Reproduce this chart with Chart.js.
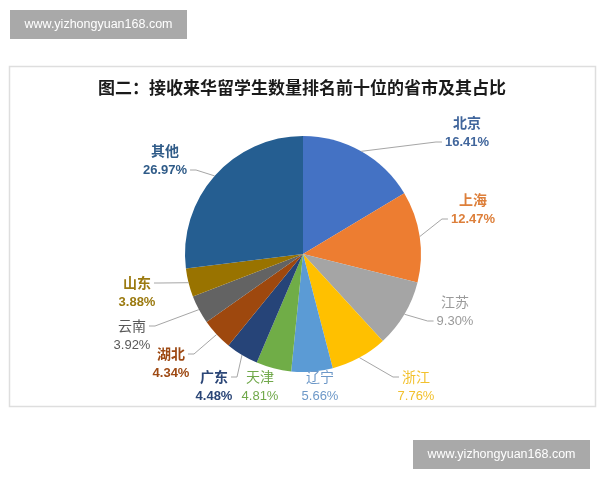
<!DOCTYPE html>
<html lang="zh">
<head>
  <meta charset="UTF-8" />
  <title>接收来华留学生数量排名前十位的省市及其占比</title>
  <script src="https://cdn.jsdelivr.net/npm/chart.js"></script>
  <style>
    html, body { margin: 0; padding: 0; background: #fff; }
    canvas { display: block; }
  </style>
</head>
<body>
  <canvas id="pieChart" width="600" height="480"></canvas>

  <script>
    // 数据
    const provinces = ['北京', '上海', '江苏', '浙江', '辽宁', '天津', '广东', '湖北', '云南', '山东', '其他'];
    const shares = [16.41, 12.47, 9.30, 7.76, 5.66, 4.81, 4.48, 4.34, 3.92, 3.88, 26.97];

    // 样式
    const sliceColors = ['#4472C4', '#ED7D31', '#A5A5A5', '#FFC000', '#5B9BD5', '#70AD47',
                         '#264478', '#9E480E', '#636363', '#997300', '#255E91'];
    const labelColors = ['#41669c', '#dd7f3a', '#9a9a9a', '#f2c12e', '#6d98c8', '#70a84a',
                         '#2b4677', '#9e4a14', '#595959', '#9b7a10', '#2f5b88'];
    const labelBold = [true, true, false, false, false, false, true, true, false, true, true];
    // 标签位置（名称行中心）
    const labelPos = [[467, 123], [473, 200], [455, 302], [416, 377], [320, 377], [260, 377],
                      [214, 377], [171, 354], [132, 326], [137, 283], [165, 151]];

    const titleText = '图二：接收来华留学生数量排名前十位的省市及其占比';
    const watermark = 'www.yizhongyuan168.com';

    const cjk = '"Noto Sans CJK SC", "Noto Sans", sans-serif';
    const latin = '"Liberation Sans", Arial, sans-serif';

    function drawWatermark(ctx, x, y, w, h) {
      ctx.fillStyle = '#a9a9a9';
      ctx.fillRect(x, y, w, h);
      ctx.fillStyle = '#ffffff';
      ctx.font = '12.5px ' + latin;
      ctx.textAlign = 'center';
      ctx.textBaseline = 'middle';
      ctx.fillText(watermark, x + w / 2, y + h / 2);
    }

    const decorPlugin = {
      id: 'decor',
      beforeDraw(chart) {
        const ctx = chart.ctx;
        ctx.save();
        ctx.fillStyle = '#ffffff';
        ctx.fillRect(0, 0, chart.width, chart.height);

        // 外框
        ctx.strokeStyle = '#dedede';
        ctx.lineWidth = 1.5;
        ctx.strokeRect(9.5, 66.5, 586, 340);

        // 标题
        ctx.fillStyle = '#1a1a1a';
        ctx.font = 'bold 17px ' + cjk;
        ctx.textAlign = 'center';
        ctx.textBaseline = 'middle';
        ctx.fillText(titleText, 302, 88);

        drawWatermark(ctx, 10, 10, 177, 29);
        drawWatermark(ctx, 413, 440, 177, 29);
        ctx.restore();
      },
      afterDatasetsDraw(chart) {
        const ctx = chart.ctx;
        const arcs = chart.getDatasetMeta(0).data;
        ctx.save();
        arcs.forEach((arc, i) => {
          const p = arc.getProps(['x', 'y', 'startAngle', 'endAngle', 'outerRadius'], true);
          const mid = (p.startAngle + p.endAngle) / 2;
          const ax = p.x + Math.cos(mid) * p.outerRadius;
          const ay = p.y + Math.sin(mid) * p.outerRadius;

          const [lx, ly] = labelPos[i];
          const nameText = provinces[i];
          const pctText = shares[i].toFixed(2) + '%';
          const weight = labelBold[i] ? 'bold ' : '';
          const nameFont = weight + '14px ' + cjk;
          const pctFont = weight + '13px ' + latin;

          ctx.font = nameFont;
          const nameW = ctx.measureText(nameText).width;
          ctx.font = pctFont;
          const pctW = ctx.measureText(pctText).width;

          // 引导线
          const half = Math.max(nameW, pctW) / 2;
          if (ax < lx - half - 2 || ax > lx + half + 2) {
            const pctY = ly + 19;
            const useName = Math.abs(ay - ly) < Math.abs(ay - pctY);
            const ey = useName ? ly : pctY;
            const w = useName ? nameW : pctW;
            const right = ax < lx;
            const ex = right ? lx - w / 2 - 3 : lx + w / 2 + 3;
            const bx = right ? ex - 6 : ex + 6;
            ctx.strokeStyle = '#a6a6a6';
            ctx.lineWidth = 1;
            ctx.beginPath();
            ctx.moveTo(ax, ay);
            ctx.lineTo(bx, ey);
            ctx.lineTo(ex, ey);
            ctx.stroke();
          }

          ctx.fillStyle = labelColors[i];
          ctx.textAlign = 'center';
          ctx.textBaseline = 'middle';
          ctx.font = nameFont;
          ctx.fillText(nameText, lx, ly);
          ctx.font = pctFont;
          ctx.fillText(pctText, lx, ly + 19);
        });
        ctx.restore();
      }
    };

    new Chart(document.getElementById('pieChart').getContext('2d'), {
      type: 'pie',
      data: {
        labels: provinces,
        datasets: [{
          data: shares,
          backgroundColor: sliceColors,
          borderWidth: 0
        }]
      },
      options: {
        responsive: false,
        animation: false,
        devicePixelRatio: 1,
        layout: { padding: { left: 185, right: 179, top: 136, bottom: 108 } },
        plugins: {
          legend: { display: false },
          tooltip: { enabled: false }
        }
      },
      plugins: [decorPlugin]
    });
  </script>
</body>
</html>
